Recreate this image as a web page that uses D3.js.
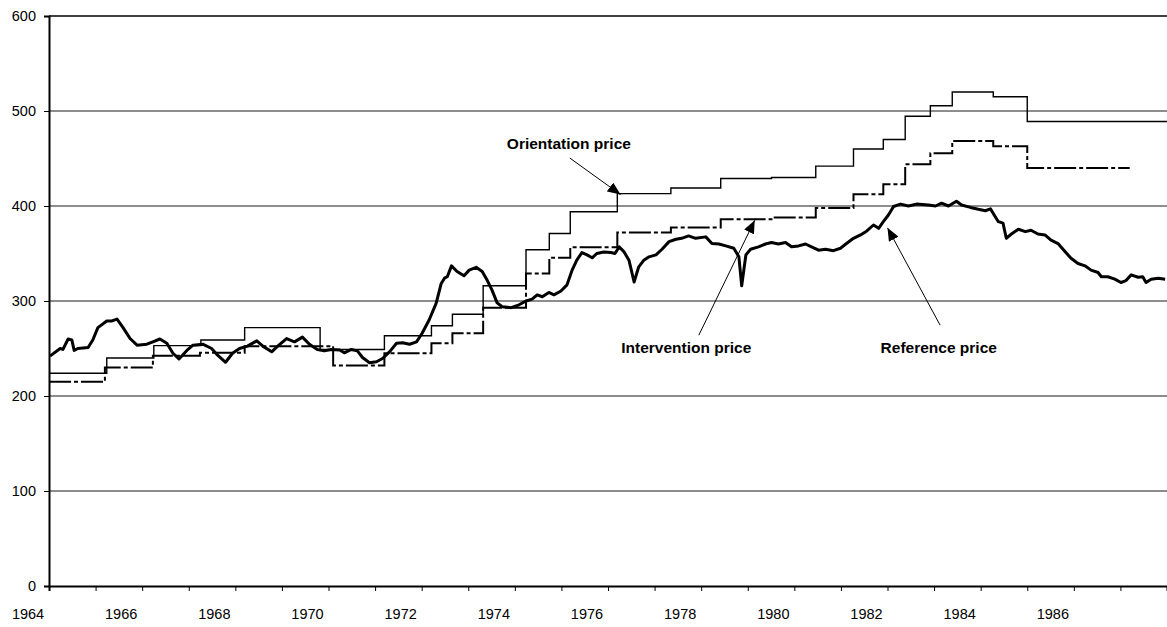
<!DOCTYPE html>
<html>
<head>
<meta charset="utf-8">
<script src="https://cdn.jsdelivr.net/npm/d3@7"></script>
<style>
  body { margin: 0; background: #fff; }
  svg { display: block; font-family: "Liberation Sans", Arial, sans-serif; }
  .tick text { fill: #000; }
</style>
</head>
<body>
<div id="chart"></div>
<script>
"use strict";

// orientation price: step start (year) and value
var orientYear = [1964, 1965.24, 1966.25, 1967.26, 1968.2, 1969.82, 1971.2, 1972.21, 1972.66, 1973.32,
    1974.24, 1974.74, 1975.19, 1976.2, 1977.35, 1978.42, 1979.51, 1980.46, 1981.27, 1981.91,
    1982.38, 1982.92, 1983.39, 1984.27, 1985.0, 1988];
var orientValue = [224, 240, 253, 259, 272, 249, 263.5, 274, 286, 316,
    354, 371, 394, 413, 419, 429, 430, 442, 460, 470,
    494.5, 505.5, 520, 515, 489, 489];

// intervention price
var interYear = [1964, 1965.2, 1966.23, 1967.24, 1968.2, 1970.1, 1971.2, 1972.21, 1972.66, 1973.32,
    1974.24, 1974.74, 1975.19, 1976.2, 1977.35, 1978.42, 1979.51, 1980.46, 1981.27, 1981.91,
    1982.38, 1982.92, 1983.39, 1984.27, 1985.0, 1987.2];
var interValue = [215, 230, 242.5, 245.5, 252.5, 232, 245, 255.5, 266, 293,
    329, 345.5, 356.5, 372, 377.5, 386, 388, 398, 412.5, 423,
    444, 455.5, 468.5, 463, 440, 440];

// reference price (market)
var refYear = [1964.02, 1964.24, 1964.30, 1964.41, 1964.49, 1964.54, 1964.62, 1964.84, 1964.94, 1965.05,
    1965.24, 1965.35, 1965.46, 1965.59, 1965.74, 1965.89, 1966.10, 1966.23, 1966.38, 1966.53,
    1966.66, 1966.79, 1966.96, 1967.09, 1967.30, 1967.49, 1967.62, 1967.79, 1967.94, 1968.09,
    1968.26, 1968.46, 1968.59, 1968.78, 1968.91, 1969.10, 1969.27, 1969.44, 1969.59, 1969.76,
    1969.91, 1970.06, 1970.24, 1970.34, 1970.49, 1970.62, 1970.73, 1970.88, 1971.03, 1971.16,
    1971.31, 1971.46, 1971.59, 1971.74, 1971.89, 1972.01, 1972.16, 1972.31, 1972.42, 1972.49,
    1972.55, 1972.64, 1972.76, 1972.91, 1973.02, 1973.17, 1973.30, 1973.41, 1973.51, 1973.62,
    1973.73, 1973.92, 1974.09, 1974.24, 1974.37, 1974.48, 1974.59, 1974.73, 1974.84, 1974.99,
    1975.12, 1975.23, 1975.33, 1975.44, 1975.55, 1975.66, 1975.76, 1975.91, 1976.06, 1976.15,
    1976.24, 1976.34, 1976.45, 1976.56, 1976.66, 1976.77, 1976.88, 1977.03, 1977.16, 1977.31,
    1977.46, 1977.58, 1977.73, 1977.88, 1978.10, 1978.23, 1978.38, 1978.53, 1978.70, 1978.81,
    1978.87, 1978.96, 1979.06, 1979.23, 1979.38, 1979.51, 1979.66, 1979.81, 1979.94, 1980.09,
    1980.24, 1980.37, 1980.52, 1980.67, 1980.84, 1980.99, 1981.12, 1981.27, 1981.42, 1981.55,
    1981.70, 1981.81, 1981.91, 1982.02, 1982.13, 1982.28, 1982.45, 1982.62, 1982.88, 1983.03,
    1983.16, 1983.31, 1983.48, 1983.59, 1983.78, 1983.95, 1984.10, 1984.21, 1984.31, 1984.38,
    1984.48, 1984.55, 1984.66, 1984.81, 1984.96, 1985.08, 1985.23, 1985.38, 1985.51, 1985.66,
    1985.81, 1985.94, 1986.09, 1986.24, 1986.37, 1986.52, 1986.59, 1986.73, 1986.88, 1987.01,
    1987.12, 1987.23, 1987.38, 1987.48, 1987.55, 1987.66, 1987.81, 1987.96];
var refValue = [242, 250, 249, 260, 259, 248, 250, 251, 259, 272,
    279, 279, 281, 272, 260.5, 253.5, 254.5, 257, 260, 255.5,
    245, 239, 248, 253.5, 254.5, 250, 243, 235.5, 245, 250,
    252.5, 258, 252.5, 246.5, 252.5, 260.5, 257, 262, 254.5, 249,
    247.5, 249, 248.5, 245.5, 249, 247.5, 240.5, 235, 236, 239.5,
    246.5, 255.5, 256, 254.5, 257, 266, 280, 297.5, 318.5, 324,
    325.5, 337, 331, 326.5, 332.5, 335.5, 331, 321.5, 311.5, 298,
    294, 293, 296, 300, 302, 306.5, 304.5, 309, 306.5, 310.5,
    317, 332.5, 343, 351, 348.5, 345.5, 350, 351.5, 351, 350,
    357, 352, 343, 320, 336, 343, 346.5, 348.5, 354.5, 362.5,
    365, 366, 368.5, 366, 367.5, 360.5, 360, 358, 355.5, 346.5,
    316, 348.5, 354.5, 357, 360, 361.5, 360, 361.5, 357, 358,
    360, 357, 353.5, 354.5, 353, 355.5, 360.5, 366, 369.5, 373.5,
    380, 376.5, 383.5, 390.5, 399.5, 402, 400, 402, 401, 400,
    403, 400, 405, 401, 398.5, 396.5, 395, 397, 389, 383.5,
    382, 366, 370.5, 375.5, 373, 374.5, 370.5, 369.5, 364, 360.5,
    352, 345, 339.5, 337, 332.5, 330, 325.5, 325.5, 323, 319.5,
    321.5, 327.5, 325, 325.5, 319.5, 323, 324, 323];

var yTicks = [0, 100, 200, 300, 400, 500, 600];
var xTickYears = d3.range(1964, 1989);
var xLabelYears = [1964, 1966, 1968, 1970, 1972, 1974, 1976, 1978, 1980, 1982, 1984, 1986];

// annotation labels: text anchor point and arrow from/to, all in data units
var notes = [
    {label: "Orientation price", tx: 1975.16, ty: 466, fx: 1975.18, fy: 450.5, ex: 1976.27, ey: 412},
    {label: "Intervention price", tx: 1977.68, ty: 251.5, fx: 1977.95, fy: 264, ex: 1979.15, ey: 385},
    {label: "Reference price", tx: 1983.1, ty: 250.5, fx: 1983.13, fy: 274.5, ex: 1982.0, ey: 377}
];

var W = 1167, H = 627;
var margin = {top: 16, right: 0, bottom: 41, left: 49},
    width = W - margin.left - margin.right,
    height = H - margin.top - margin.bottom;

var svg = d3.select("#chart").append("svg")
    .attr("width", W)
    .attr("height", H);

var defs = svg.append("defs");
defs.append("marker")
    .attr("id", "head")
    .attr("markerUnits", "userSpaceOnUse")
    .attr("viewBox", "0 0 12 10")
    .attr("refX", 12).attr("refY", 5)
    .attr("markerWidth", 13).attr("markerHeight", 11)
    .attr("orient", "auto")
  .append("path")
    .attr("d", "M0,0 L12,5 L0,10 Z")
    .attr("fill", "#000");

var g = svg.append("g")
    .attr("transform", "translate(" + margin.left + "," + margin.top + ")");

var x = d3.scaleLinear().domain([1964, 1988]).range([0, width]);
var y = d3.scaleLinear().domain([0, 600]).range([height, 0]);

// gridlines
g.append("g")
    .selectAll("line")
    .data(yTicks.filter(function(d) { return d > 0; }))
    .enter().append("line")
    .attr("x1", 0).attr("x2", width)
    .attr("y1", function(d) { return y(d); })
    .attr("y2", function(d) { return y(d); })
    .style("stroke", function(d) { return d == 600 ? "#000" : "#1a1a1a"; })
    .style("stroke-width", function(d) { return d == 600 ? 1.5 : 1; });

// y axis
var yAxis = g.append("g")
    .call(d3.axisLeft(y).tickValues(yTicks).tickSize(5).tickPadding(8));
yAxis.selectAll("text").style("font-size", "14.5px");
yAxis.select(".domain").attr("stroke-width", 2);

// x axis: ticks each year, labels every two years shifted left
var xAxis = g.append("g")
    .attr("transform", "translate(0," + height + ")")
    .call(d3.axisBottom(x).tickValues(xTickYears).tickSize(5).tickFormat(""));
xAxis.select(".domain").attr("stroke-width", 2);

g.append("g")
    .selectAll("text")
    .data(xLabelYears)
    .enter().append("text")
    .attr("x", function(d) { return x(d) - 21; })
    .attr("y", height + 33)
    .attr("text-anchor", "middle")
    .style("font-size", "14.5px")
    .text(function(d) { return d; });

var stepLine = d3.line()
    .x(function(d) { return x(d[0]); })
    .y(function(d) { return y(d[1]); })
    .curve(d3.curveStepAfter);

var plainLine = d3.line()
    .x(function(d) { return x(d[0]); })
    .y(function(d) { return y(d[1]); });

g.append("path")
    .datum(d3.zip(orientYear, orientValue))
    .attr("fill", "none")
    .attr("stroke", "#000")
    .attr("stroke-width", 1.4)
    .attr("d", stepLine);

g.append("path")
    .datum(d3.zip(interYear, interValue))
    .attr("fill", "none")
    .attr("stroke", "#000")
    .attr("stroke-width", 2)
    .attr("stroke-dasharray", "22,3,4,3")
    .attr("d", stepLine);

g.append("path")
    .datum(d3.zip(refYear, refValue))
    .attr("fill", "none")
    .attr("stroke", "#000")
    .attr("stroke-width", 3)
    .attr("stroke-linejoin", "round")
    .attr("d", plainLine);

// annotations
var ann = g.append("g");
notes.forEach(function(n) {
    ann.append("line")
        .attr("x1", x(n.fx)).attr("y1", y(n.fy))
        .attr("x2", x(n.ex)).attr("y2", y(n.ey))
        .attr("stroke", "#000")
        .attr("stroke-width", 1)
        .attr("marker-end", "url(#head)");
    ann.append("text")
        .attr("x", x(n.tx))
        .attr("y", y(n.ty))
        .attr("dy", "0.35em")
        .attr("text-anchor", "middle")
        .style("font-size", "15.5px")
        .style("font-weight", "bold")
        .text(n.label);
});
</script>
</body>
</html>
